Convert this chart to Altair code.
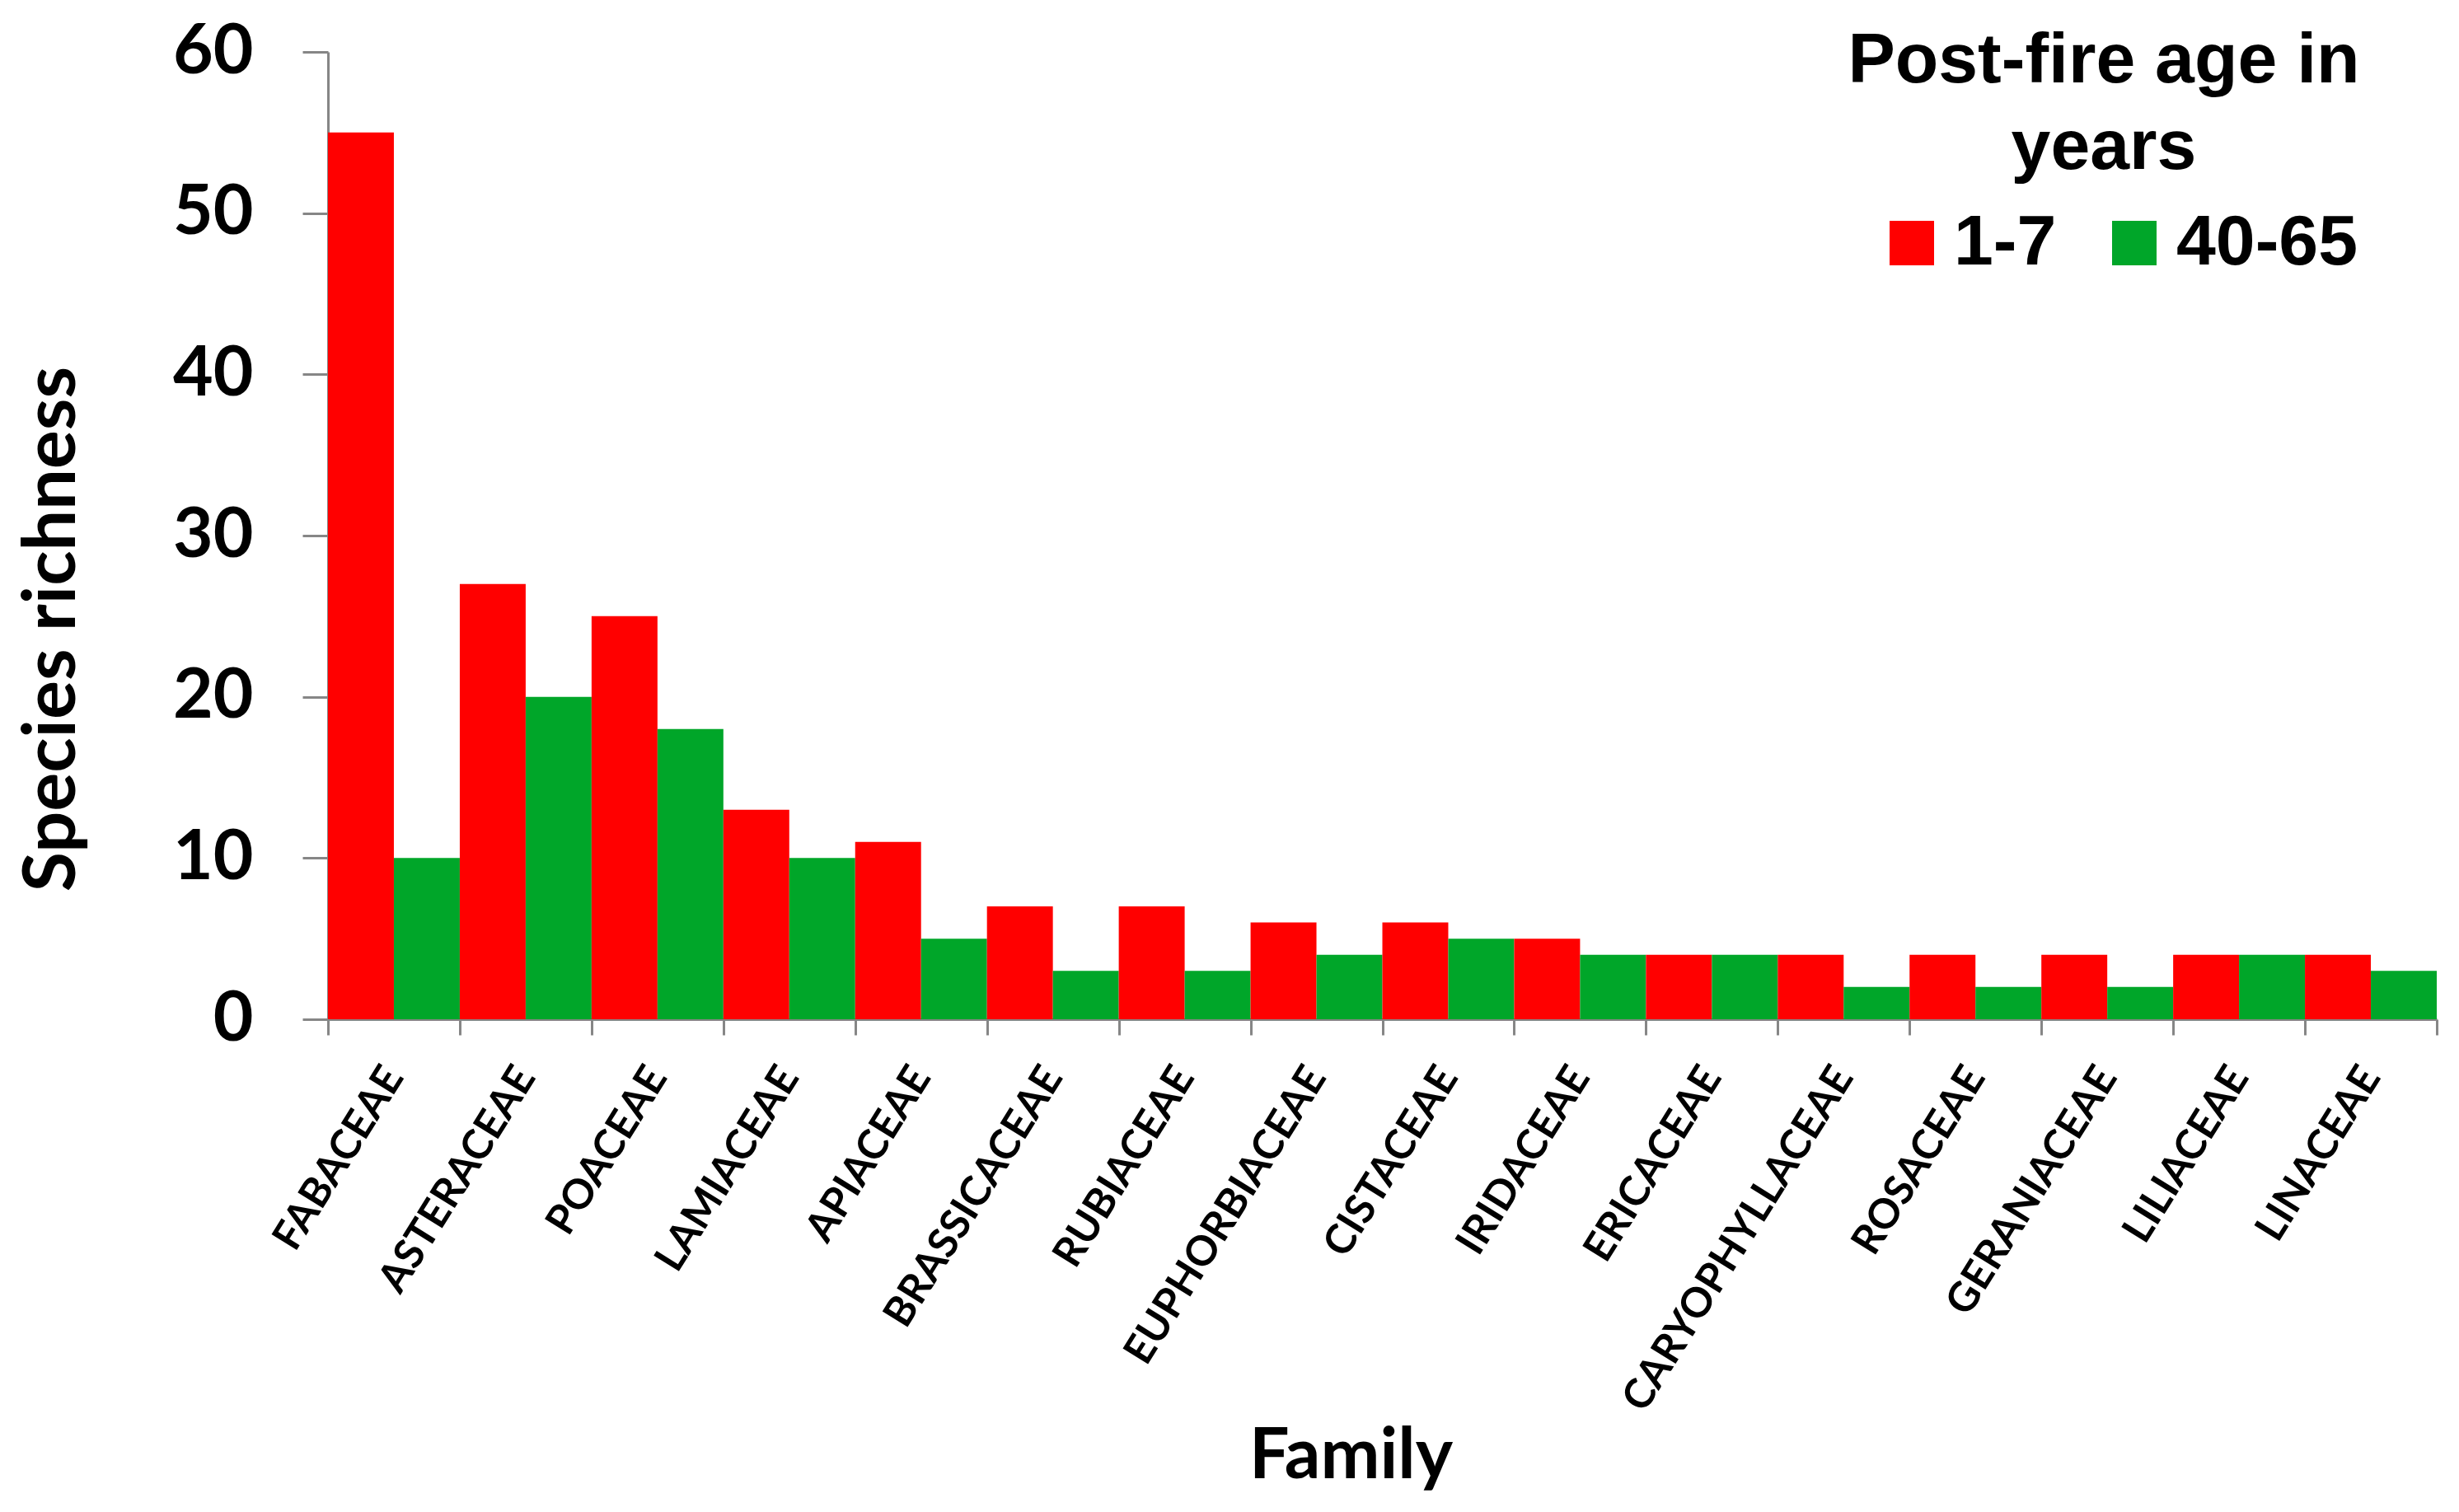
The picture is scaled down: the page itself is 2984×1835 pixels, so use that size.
import altair as alt
import pandas as pd

families = ["FABACEAE", "ASTERACEAE", "POACEAE", "LAMIACEAE", "APIACEAE",
            "BRASSICACEAE", "RUBIACEAE", "EUPHORBIACEAE", "CISTACEAE", "IRIDACEAE",
            "ERICACEAE", "CARYOPHYLLACEAE", "ROSACEAE", "GERANIACEAE", "LILIACEAE", "LINACEAE"]
young = [55, 27, 25, 13, 11, 7, 7, 6, 6, 5, 4, 4, 4, 4, 4, 4]
old = [10, 20, 18, 10, 5, 3, 3, 4, 5, 4, 4, 2, 2, 2, 4, 3]
groups = ["1-7", "40-65"]
colors = ["#FF0000", "#00A629"]
y_ticks = [0, 10, 20, 30, 40, 50, 60]

rows = []
for f, a, b in zip(families, young, old):
    rows.append({"Family": f, "Age": groups[0], "Richness": a})
    rows.append({"Family": f, "Age": groups[1], "Richness": b})
df = pd.DataFrame(rows)

axis_gray = "#868686"

chart = alt.Chart(df).mark_bar().encode(
    x=alt.X("Family:N", sort=families,
            scale=alt.Scale(paddingInner=0, paddingOuter=0),
            axis=alt.Axis(title="Family", labelAngle=302, labelFont="Lato",
                          labelFontWeight="bold",
                          labelFontSize=50, labelColor="black",
                          labelPadding=43, labelLimit=1000,
                          tickBand="extent", tickSize=19, tickWidth=3,
                          tickColor=axis_gray, domainColor=axis_gray, domainWidth=3,
                          titleFont="Lato", titleFontWeight="bold", titleFontSize=86,
                          titleColor="black", titleX=1241, titleY=556,
                          titleAlign="center", titleBaseline="alphabetic")),
    xOffset=alt.XOffset("Age:N", sort=groups,
                        scale=alt.Scale(paddingInner=0, paddingOuter=0)),
    y=alt.Y("Richness:Q", scale=alt.Scale(domain=[0, 60], nice=False),
            axis=alt.Axis(title="Species richness", values=y_ticks, grid=False,
                          labelFont="Lato", labelFontWeight="bold", labelFontSize=84,
                          labelColor="black", labelPadding=60,
                          tickSize=31, tickWidth=3, tickColor=axis_gray,
                          domainColor=axis_gray, domainWidth=3,
                          titleFont="Lato", titleFontWeight="bold", titleFontSize=88,
                          titleColor="black", titleAngle=270, titleX=-334, titleY=700,
                          titleAlign="center", titleBaseline="middle")),
    color=alt.Color("Age:N", scale=alt.Scale(domain=groups, range=colors),
                    legend=alt.Legend(title=["Post-fire age in", "years"],
                                      orient="none", legendX=1844, legendY=-31,
                                      direction="horizontal",
                                      titleFont="Liberation Sans", titleFontSize=86,
                                      titleFontWeight="bold", titleColor="black",
                                      titleAnchor="middle", titleAlign="center",
                                      titleLineHeight=105, titlePadding=29,
                                      titleLimit=2000,
                                      labelFont="Liberation Sans", labelFontSize=86,
                                      labelFontWeight="bold", labelColor="black",
                                      labelOffset=8, labelLimit=1000,
                                      columnPadding=19, padding=0,
                                      symbolOffset=32,
                                      symbolType="square", symbolSize=2916,
                                      symbolStrokeWidth=0, symbolOpacity=1)),
).properties(
    width=2559, height=1174,
    autosize=alt.AutoSizeParams(type="none"),
    padding={"left": 390, "top": 55, "right": 10, "bottom": 580},
).configure_view(stroke=None)

chart.save("out.html", embed_options={"renderer": "svg", "actions": False})
